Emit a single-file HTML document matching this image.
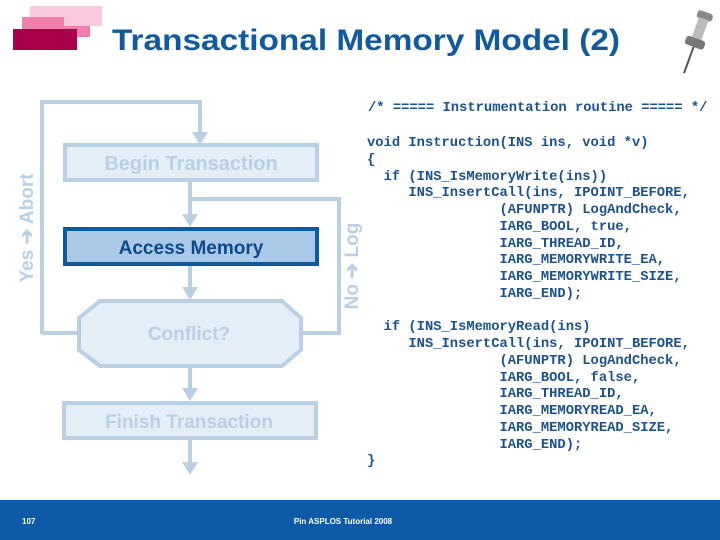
<!DOCTYPE html>
<html><head><meta charset="utf-8"><style>
html,body{margin:0;padding:0;background:#fff;width:720px;height:540px;overflow:hidden;position:relative;font-family:"Liberation Sans",sans-serif}
pre{position:absolute;margin:0;font-family:"Liberation Mono",monospace;font-weight:bold;font-size:13.8px;line-height:16.75px;color:#1a528f}
</style></head><body>
<svg width="720" height="540" style="position:absolute;left:0;top:0">
<rect x="30" y="6" width="72" height="20" fill="#f9c8dc"/>
<rect x="22" y="17" width="68" height="20" fill="#f07fae"/>
<rect x="13" y="29" width="64" height="21" fill="#a8004a"/>
<rect x="30" y="6" width="72" height="20" fill="#f9c8dc"/>
<rect x="22" y="17" width="42" height="11" fill="#f07fae"/>
<text x="112" y="50" font-family="Liberation Sans" font-weight="bold" font-size="30" fill="#0f5aa0" textLength="508" lengthAdjust="spacingAndGlyphs">Transactional Memory Model (2)</text>
<!-- pin -->
<g transform="rotate(20 695 40)">
<rect x="688" y="10" width="16" height="8" rx="3" fill="#888"/>
<rect x="691" y="17" width="10" height="22" fill="#bbb"/>
<rect x="686" y="38" width="20" height="9" rx="3" fill="#777"/>
<line x1="696" y1="47" x2="696" y2="75" stroke="#555" stroke-width="2"/>
</g>
<g fill="none" stroke="#b8cfe4" stroke-width="4">
<polyline points="42,334 42,102 200,102 200,140"/>
<line x1="190" y1="181" x2="190" y2="222"/>
<polyline points="192,199 339,199 339,333 302,333"/>
<line x1="42" y1="333" x2="79" y2="333"/>
<line x1="190" y1="266" x2="190" y2="296"/>
<line x1="190" y1="367" x2="190" y2="398"/>
<line x1="190" y1="440" x2="190" y2="470"/>
</g>
<g fill="#b8cfe4">
<polygon points="192,132 208,132 200,145"/>
<polygon points="182,214 198,214 190,227"/>
<polygon points="182,287 198,287 190,300"/>
<polygon points="182,388 198,388 190,401"/>
<polygon points="182,462 198,462 190,475"/>
</g>
<rect x="65" y="145" width="252" height="35" fill="#e4eef7" stroke="#b8cfe4" stroke-width="4"/>
<text x="191" y="170" text-anchor="middle" font-weight="bold" font-size="20" fill="#b8cfe4">Begin Transaction</text>
<rect x="65" y="229" width="252" height="35" fill="#a9c9e6" stroke="#0d5aa0" stroke-width="4"/>
<text x="191" y="254" text-anchor="middle" font-weight="bold" font-size="19" fill="#0d4a8a">Access Memory</text>
<polygon points="100,301 282,301 301,318 301,350 282,366 100,366 79,350 79,318" fill="#e4eef7" stroke="#b8cfe4" stroke-width="4"/>
<text x="189" y="340" text-anchor="middle" font-weight="bold" font-size="19" fill="#b8cfe4">Conflict?</text>
<rect x="64" y="403" width="252" height="35" fill="#e4eef7" stroke="#b8cfe4" stroke-width="4"/>
<text x="189" y="428" text-anchor="middle" font-weight="bold" font-size="19" fill="#b8cfe4">Finish Transaction</text>
<text transform="translate(33 228) rotate(-90)" text-anchor="middle" font-weight="bold" font-size="19" fill="#b8cfe4">Yes ➔ Abort</text>
<text transform="translate(358 266) rotate(-90)" text-anchor="middle" font-weight="bold" font-size="19" fill="#b8cfe4">No ➔ Log</text>
<rect x="0" y="500" width="720" height="40" fill="#0d5aa7"/>
<text x="22" y="524" font-size="8" font-weight="bold" fill="#fff">107</text>
<text x="343" y="524" text-anchor="middle" font-size="8" font-weight="bold" fill="#fff">Pin ASPLOS Tutorial 2008</text>
</svg>
<pre style="left:368px;top:101px">/* ===== Instrumentation routine ===== */</pre>
<pre style="left:367px;top:136px">void Instruction(INS ins, void *v)
{
  if (INS_IsMemoryWrite(ins))
     INS_InsertCall(ins, IPOINT_BEFORE,
                (AFUNPTR) LogAndCheck,
                IARG_BOOL, true,
                IARG_THREAD_ID,
                IARG_MEMORYWRITE_EA,
                IARG_MEMORYWRITE_SIZE,
                IARG_END);

  if (INS_IsMemoryRead(ins)
     INS_InsertCall(ins, IPOINT_BEFORE,
                (AFUNPTR) LogAndCheck,
                IARG_BOOL, false,
                IARG_THREAD_ID,
                IARG_MEMORYREAD_EA,
                IARG_MEMORYREAD_SIZE,
                IARG_END);
}</pre>
</body></html>
